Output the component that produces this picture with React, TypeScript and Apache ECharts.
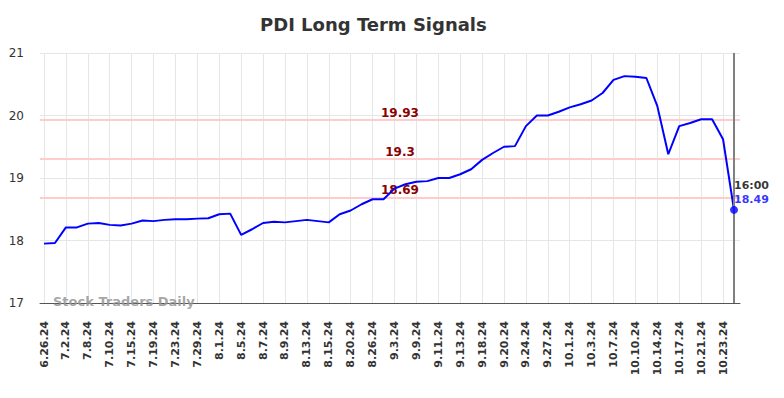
import React, { useEffect, useRef } from "react";
import * as echarts from "echarts";

const categories = [
  "6.26.24", "6.28.24", "7.2.24", "7.5.24", "7.8.24", "7.9.24", "7.10.24", "7.12.24",
  "7.15.24", "7.17.24", "7.19.24", "7.22.24", "7.23.24", "7.25.24", "7.29.24", "7.30.24",
  "8.1.24", "8.2.24", "8.5.24", "8.6.24", "8.7.24", "8.8.24", "8.9.24", "8.12.24",
  "8.13.24", "8.14.24", "8.15.24", "8.16.24", "8.20.24", "8.22.24", "8.26.24", "8.29.24",
  "9.3.24", "9.5.24", "9.9.24", "9.10.24", "9.11.24", "9.12.24", "9.13.24", "9.16.24",
  "9.18.24", "9.19.24", "9.20.24", "9.23.24", "9.24.24", "9.26.24", "9.27.24", "9.30.24",
  "10.1.24", "10.2.24", "10.3.24", "10.4.24", "10.7.24", "10.9.24", "10.10.24", "10.11.24",
  "10.14.24", "10.16.24", "10.17.24", "10.18.24", "10.21.24", "10.22.24", "10.23.24", "10.24.24",
];

const pdiValues = [
  17.95, 17.96, 18.21, 18.21, 18.27, 18.28, 18.25, 18.24,
  18.27, 18.32, 18.31, 18.33, 18.34, 18.34, 18.35, 18.355,
  18.42, 18.43, 18.09, 18.18, 18.28, 18.3, 18.29, 18.31,
  18.33, 18.31, 18.29, 18.42, 18.48, 18.58, 18.66, 18.66,
  18.83, 18.9, 18.94, 18.95, 19.0, 19.0, 19.06, 19.14,
  19.29, 19.4, 19.5, 19.51, 19.83, 20.0, 20.0, 20.06,
  20.13, 20.18, 20.24, 20.36, 20.57, 20.63, 20.62, 20.6,
  20.15, 19.38, 19.83, 19.88, 19.94, 19.94, 19.62, 18.49,
];

const signalLevels = [19.93, 19.3, 18.69];
const yTicks = { min: 17, max: 21, interval: 1 };
const lastTimeLabel = "16:00";

const FONT = "DejaVu Sans";

export default function App() {
  const ref = useRef<HTMLDivElement>(null);
  useEffect(() => {
    if (!ref.current) return;
    const chart = echarts.init(ref.current, undefined, { renderer: "svg" });
    const lastIdx = pdiValues.length - 1;
    const lastCat = categories[lastIdx];
    const lastVal = pdiValues[lastIdx];
    chart.setOption({
      animation: false,
      textStyle: { fontFamily: FONT },
      title: {
        text: "PDI Long Term Signals",
        left: 260,
        top: 15,
        padding: 0,
        textStyle: { fontFamily: FONT, fontSize: 18, fontWeight: "bold", color: "#333" },
      },
      grid: [
        { left: 40, right: 44, top: 53, bottom: 95 },
        { left: 44, right: 50, top: 53, bottom: 95 },
      ],
      xAxis: [
        {
          type: "value",
          gridIndex: 0,
          min: 0,
          max: 1,
          axisLine: { show: true, lineStyle: { color: "#555", width: 1 } },
          axisTick: { show: false },
          axisLabel: { show: false },
          splitLine: { show: false },
        },
        {
          type: "category",
          gridIndex: 1,
          data: categories,
          boundaryGap: false,
          axisLine: { show: false },
          axisTick: { show: false },
          axisLabel: {
            rotate: 90,
            interval: 1,
            fontSize: 11,
            fontWeight: "bold",
            color: "#333",
            margin: 18,
            fontFamily: FONT,
          },
          splitLine: { show: true, interval: 1, lineStyle: { color: "#e6e6e6", width: 1 } },
        },
      ],
      yAxis: [
        {
          type: "value",
          gridIndex: 0,
          min: yTicks.min,
          max: yTicks.max,
          interval: yTicks.interval,
          axisLine: { show: false },
          axisTick: { show: false },
          axisLabel: { fontSize: 12, color: "#333", margin: 16, fontFamily: FONT },
          splitLine: { show: true, lineStyle: { color: "#e6e6e6", width: 1 } },
        },
        {
          type: "value",
          gridIndex: 1,
          min: yTicks.min,
          max: yTicks.max,
          interval: yTicks.interval,
          show: false,
          splitLine: { show: false },
        },
      ],
      graphic: [
        {
          type: "text",
          left: 53,
          top: 295,
          z: 10,
          style: {
            text: "Stock Traders Daily",
            fontFamily: FONT,
            fontSize: 13,
            fontWeight: "bold",
            fill: "rgba(150,150,150,0.85)",
          },
        },
      ],
      series: [
        {
          type: "line",
          xAxisIndex: 0,
          yAxisIndex: 0,
          data: [],
          silent: true,
          markLine: {
            silent: true,
            symbol: "none",
            z: 1,
            lineStyle: { color: "#ffcccc", width: 2, type: "solid" },
            label: {
              show: true,
              position: "middle",
              distance: 1,
              padding: [0, 0, 0, 20],
              fontFamily: FONT,
              fontSize: 12,
              fontWeight: "bold",
              color: "#8b0000",
              formatter: (p: any) => String(p.value),
            },
            emphasis: { disabled: true },
            data: signalLevels.map((v) => ({ yAxis: v })),
          },
        },
        {
          type: "line",
          xAxisIndex: 1,
          yAxisIndex: 1,
          data: pdiValues,
          showSymbol: false,
          z: 3,
          lineStyle: { color: "#0000ff", width: 2 },
          itemStyle: { color: "#0000ff" },
          markLine: {
            silent: true,
            symbol: "none",
            label: { show: false },
            lineStyle: { color: "#808080", width: 2, type: "solid" },
            data: [{ xAxis: lastCat }],
          },
        },
        {
          type: "scatter",
          xAxisIndex: 1,
          yAxisIndex: 1,
          data: [[lastCat, lastVal]],
          symbol: "circle",
          symbolSize: 8,
          z: 5,
          itemStyle: { color: "#0000ff" },
          label: {
            show: true,
            position: [4, -27],
            formatter: () => `{t|${lastTimeLabel}}\n{v|${lastVal}}`,
            rich: {
              t: { fontFamily: FONT, fontSize: 11, fontWeight: "bold", color: "#000", lineHeight: 14 },
              v: { fontFamily: FONT, fontSize: 11, fontWeight: "bold", color: "#0000ff", lineHeight: 14 },
            },
          },
        },
      ],
    });
    return () => chart.dispose();
  }, []);
  return (
    <div
      ref={ref}
      style={{ position: "absolute", left: 0, top: 0, width: 784, height: 398 }}
    />
  );
}
